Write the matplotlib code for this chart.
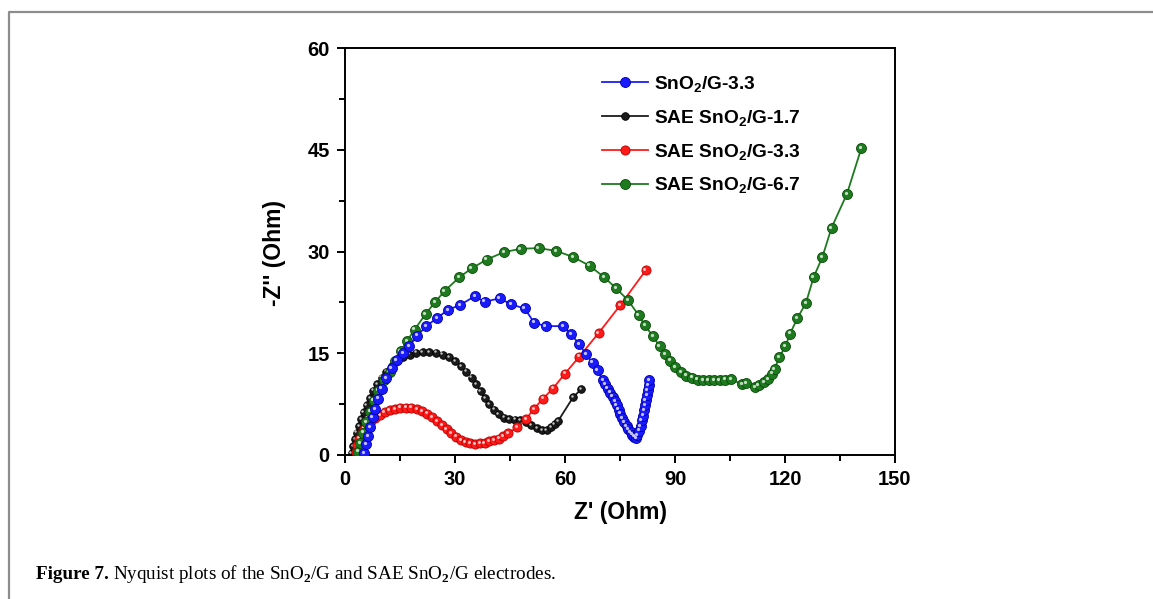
import matplotlib.pyplot as plt
from matplotlib.lines import Line2D
from matplotlib.ticker import MultipleLocator
from matplotlib.transforms import offset_copy

plt.rcParams['font.family'] = ['Liberation Sans', 'DejaVu Sans']
plt.rcParams['font.weight'] = 'bold'
plt.rcParams['mathtext.fontset'] = 'custom'
plt.rcParams['mathtext.rm'] = 'Liberation Sans:bold'
plt.rcParams['mathtext.it'] = 'Liberation Sans:bold'
plt.rcParams['mathtext.bf'] = 'Liberation Sans:bold'
plt.rcParams['mathtext.sf'] = 'Liberation Serif'
plt.rcParams['mathtext.default'] = 'rm'

# ------------------- data -------------------

blue_x = [5.3, 5.8, 6.3, 6.8, 7.5, 8.2, 9.1, 10.0, 11.3, 12.7, 14.1, 15.8, 17.5, 19.7, 22.2,
          25.1, 28.1, 31.3, 35.4, 38.1, 42.2, 45.3, 49.0, 51.6, 54.7, 59.4, 61.7, 63.9, 65.7,
          67.5, 68.9, 70.3, 71.0, 71.6, 72.3, 73.0, 73.6, 74.1, 74.6, 75.0, 75.6, 76.2, 76.8,
          77.3, 77.9, 78.4, 78.9, 79.3, 79.7, 80.2, 80.6, 80.9, 81.3, 81.6, 81.8, 82.0, 82.3,
          82.5, 82.8, 83.0]
blue_y = [0.3, 1.6, 2.8, 4.1, 5.6, 6.8, 8.3, 9.8, 11.3, 12.8, 14.0, 15.0, 16.0, 17.6, 19.0,
          20.2, 21.4, 22.1, 23.4, 22.6, 23.1, 22.2, 21.6, 19.5, 19.0, 19.0, 17.8, 16.3, 14.9,
          13.6, 12.5, 11.0, 10.4, 9.8, 9.2, 8.6, 7.9, 7.3, 6.7, 6.1, 5.4, 4.8, 4.3,
          3.8, 3.4, 3.0, 2.7, 2.5, 2.9, 3.6, 4.3, 5.1, 5.8, 6.6, 7.3, 8.1, 8.8,
          9.6, 10.3, 11.0]

black_x = [1.8, 2.2, 2.7, 3.2, 3.8, 4.4, 5.1, 5.9, 6.8, 7.7, 8.8, 10.0, 11.3, 12.8, 14.3,
           15.9, 17.6, 19.4, 21.2, 23.0, 24.8, 26.6, 28.3, 30.0, 31.6, 33.1, 34.5, 35.8, 37.0,
           38.2, 39.4, 40.6, 41.9, 43.3, 44.8, 46.3, 47.8, 49.3, 50.8, 52.3, 53.8, 55.0, 56.2,
           57.2, 58.1, 62.2, 64.4]
black_y = [0.3, 1.3, 2.3, 3.3, 4.3, 5.3, 6.3, 7.3, 8.4, 9.5, 10.5, 11.4, 12.3, 13.1, 13.8,
           14.4, 14.8, 15.1, 15.2, 15.2, 15.1, 14.8, 14.4, 13.8, 13.1, 12.3, 11.4, 10.4, 9.4,
           8.4, 7.5, 6.7, 6.0, 5.5, 5.3, 5.2, 5.1, 4.8, 4.4, 4.0, 3.7, 3.7, 4.1,
           4.6, 5.0, 8.5, 9.7]

red_x = [3.0, 3.3, 3.8, 4.5, 5.3, 6.2, 7.2, 8.3, 9.5, 10.8, 12.2, 13.6, 15.1, 16.6, 18.1,
         19.6, 21.0, 22.4, 23.8, 25.1, 26.4, 27.7, 29.0, 30.3, 31.6, 32.9, 34.2, 35.5, 36.8,
         38.1, 39.4, 40.7, 42.0, 43.2, 44.5, 47.0, 49.4, 51.5, 54.0, 56.7, 60.0, 63.9, 69.2,
         75.1, 82.0]
red_y = [0.5, 1.5, 2.4, 3.2, 3.9, 4.5, 5.0, 5.5, 5.9, 6.3, 6.6, 6.8, 7.0, 7.0, 7.0,
         6.8, 6.5, 6.1, 5.6, 5.0, 4.4, 3.8, 3.2, 2.7, 2.2, 1.9, 1.7, 1.6, 1.7,
         1.8, 2.0, 2.2, 2.4, 2.8, 3.2, 4.1, 5.3, 6.8, 8.3, 9.8, 12.0, 14.5, 18.0,
         22.1, 27.2]

green_x = [3.5, 4.2, 5.0, 5.8, 6.8, 7.8, 9.0, 10.5, 12.2, 13.6, 15.2, 16.9, 19.0, 22.0, 24.5,
           27.2, 31.2, 34.5, 38.6, 43.3, 47.9, 52.8, 57.5, 62.2, 66.7, 70.7, 73.9, 77.2, 80.1,
           81.8, 84.0, 85.8, 87.3, 88.7, 90.1, 91.6, 93.1, 94.6, 96.2, 97.7, 99.2, 100.7, 102.2,
           103.7, 105.3, 108.3, 109.3, 111.8, 112.8, 114.3, 115.4, 116.4, 117.2, 118.4, 120.1,
           121.4, 123.4, 125.7, 127.8, 130.2, 132.7, 136.9, 140.8]
green_y = [0.5, 1.8, 3.3, 4.8, 6.4, 8.0, 9.5, 11.0, 12.3, 13.8, 15.3, 16.8, 18.5, 20.8, 22.5,
           24.2, 26.2, 27.5, 28.8, 29.9, 30.4, 30.5, 30.1, 29.2, 27.9, 26.2, 24.6, 22.8, 20.6,
           19.1, 17.5, 16.0, 14.9, 13.9, 13.0, 12.2, 11.7, 11.4, 11.1, 11.0, 11.0, 11.0, 11.0,
           11.1, 11.2, 10.4, 10.6, 10.0, 10.3, 10.7, 11.2, 12.0, 12.7, 14.4, 16.0,
           17.9, 20.2, 22.4, 26.2, 29.2, 33.5, 38.5, 45.2]

labels = ["SnO$_2$/G-3.3", "SAE SnO$_2$/G-1.7", "SAE SnO$_2$/G-3.3", "SAE SnO$_2$/G-6.7"]

# ------------------- plotting -------------------

fig = plt.figure(figsize=(11.53, 5.99), dpi=100)
ax = fig.add_axes([345 / 1153, 1 - 455 / 599, 550 / 1153, 407 / 599])

# (x, y, label, face, edge, markersize, zorder) -- legend order kept below
series = [
    (blue_x, blue_y, labels[0], "#1a1aff", "#0000a8", 7.2, 5),
    (black_x, black_y, labels[1], "#1c1c1c", "#000000", 5.5, 2),
    (red_x, red_y, labels[2], "#ff1a1a", "#b80000", 6.6, 3),
    (green_x, green_y, labels[3], "#1e7a1e", "#0b4a0b", 7.2, 4),
]

shine = offset_copy(ax.transData, fig=fig, x=-0.9, y=0.9, units="points")
handles = []
for x, y, lab, face, edge, ms, z in series:
    line, = ax.plot(x, y, "-o", color=face, lw=1.3, ms=ms, mfc=face, mec=edge,
                    mew=0.6, zorder=z, label=lab)
    hl, = ax.plot(x, y, "o", ls="none", ms=ms * 0.32, mfc="#ffffff", mec="none",
                  alpha=0.75, transform=shine, zorder=z + 0.1)
    handles.append(line)

ax.set_xlim(0, 150)
ax.set_ylim(0, 60)
ax.xaxis.set_major_locator(MultipleLocator(30))
ax.xaxis.set_minor_locator(MultipleLocator(15))
ax.yaxis.set_major_locator(MultipleLocator(15))
ax.yaxis.set_minor_locator(MultipleLocator(7.5))
ax.tick_params(which="both", direction="out", top=False, right=False, width=1.4,
               labelsize=14.5, pad=5)
ax.tick_params(which="major", length=6)
ax.tick_params(which="minor", length=4.5)
for s in ax.spines.values():
    s.set_linewidth(1.4)

fig.text(620 / 1153, 1 - 513 / 599, "Z' (Ohm)", ha="center", va="center",
         fontsize=16.5, weight="bold")
fig.text(274 / 1153, 1 - 253 / 599, "-Z'' (Ohm)", ha="center", va="center",
         rotation=90, fontsize=16.5, weight="bold")

ax.legend(handles=handles, loc="upper left", bbox_to_anchor=(602 / 1153, 1 - 74 / 599),
          bbox_transform=fig.transFigure, frameon=False, fontsize=13.8,
          handlelength=2.4, handletextpad=0.3, labelspacing=0.72,
          borderpad=0, borderaxespad=0)

# page frame and caption
fig.add_artist(Line2D([9 / 1153, 9 / 1153, 1], [0, 1 - 12 / 599, 1 - 12 / 599],
                      transform=fig.transFigure, color="#8c8c8c", lw=1.6))
cap1 = fig.text(36 / 1153, 1 - 579 / 599, "Figure 7.", fontfamily="Liberation Serif",
                weight="bold", fontsize=13.8, va="baseline")
fig.canvas.draw()
bb = cap1.get_window_extent()
fig.text((bb.x1 + 4) / 1153, 1 - 579 / 599,
         "Nyquist plots of the SnO$_{\\mathsf{2}}$/G and SAE SnO$_{\\mathsf{2}}$/G electrodes.",
         fontfamily="Liberation Serif", weight="normal", fontsize=13.8, va="baseline")

fig.savefig("out.png", dpi=100)
